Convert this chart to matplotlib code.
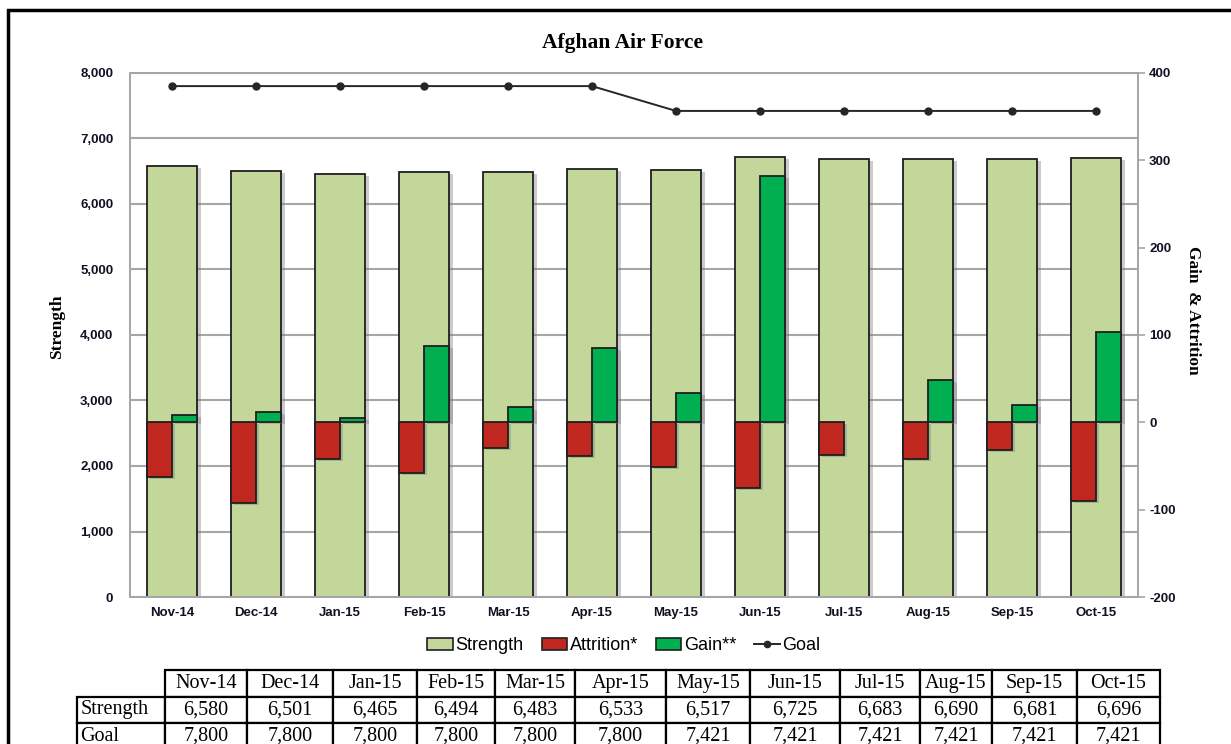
import numpy as np
import matplotlib
matplotlib.use('Agg')
import matplotlib.pyplot as plt
import matplotlib.patheffects as pe
from matplotlib.patches import Rectangle, Patch
from matplotlib.lines import Line2D
from matplotlib.table import Table
from matplotlib.ticker import FuncFormatter

plt.rcParams['axes.unicode_minus'] = False

# chart data
months = ['Nov-14', 'Dec-14', 'Jan-15', 'Feb-15', 'Mar-15', 'Apr-15',
          'May-15', 'Jun-15', 'Jul-15', 'Aug-15', 'Sep-15', 'Oct-15']
strength = [6580, 6501, 6465, 6494, 6483, 6533, 6517, 6725, 6683, 6690, 6681, 6696]
goal = [7800, 7800, 7800, 7800, 7800, 7800, 7421, 7421, 7421, 7421, 7421, 7421]
attrition = [-63, -92, -42, -58, -29, -38, -51, -75, -37, -42, -32, -90]
gain = [8, 12, 5, 87, 17, 85, 34, 282, 0, 48, 20, 104]

# table column widths in pixels (label column first)
col_px = [88, 82, 86, 84, 78, 80, 91, 84, 90, 80, 72, 85, 83]

W, H = 1231, 744
fig = plt.figure(figsize=(W / 100, H / 100), dpi=100)

tick_font = ['Liberation Sans Narrow', 'Liberation Sans', 'DejaVu Sans']
serif = ['Liberation Serif', 'DejaVu Serif']

c_strength = '#C4D79B'
c_attr = '#C0281F'
c_gain = '#00B050'
edge = '#1f1f1f'
grid_c = '#A6A6A6'

ax = fig.add_axes([130 / W, 1 - 597 / H, 1008 / W, 524 / H])
ax2 = ax.twinx()

x = np.arange(len(months))
shadow = [pe.SimplePatchShadow(offset=(2.5, -1.5), shadow_rgbFace='#7f7f7f', alpha=0.4), pe.Normal()]

bars = ax.bar(x, strength, width=0.6, color=c_strength, edgecolor=edge, linewidth=1.3, zorder=2)
for b in bars:
    b.set_path_effects(shadow)
ax.plot(x, goal, color='#262626', lw=1.4, marker='o', ms=5, zorder=5)

attr_bars = ax2.bar(x - 0.15, attrition, width=0.3, color=c_attr, edgecolor=edge, linewidth=1.3)
gain_lw = [0 if g == 0 else 1.3 for g in gain]
gain_bars = ax2.bar(x + 0.15, gain, width=0.3, color=c_gain, edgecolor=edge, linewidth=gain_lw)
for b in list(attr_bars) + list(gain_bars):
    b.set_path_effects(shadow)

ax.set_xlim(-0.5, len(months) - 0.5)
ax.set_ylim(0, 8000)
ax.set_yticks(range(0, 8001, 1000))
ax.yaxis.set_major_formatter(FuncFormatter(lambda v, p: f'{v:,.0f}'))
ax.yaxis.grid(True, color=grid_c, lw=1.5)
ax.set_axisbelow(True)
ax.set_xticks(x)
ax.set_xticklabels(months)
ax.tick_params(axis='y', length=0, pad=12)
ax.tick_params(axis='x', length=0, pad=7)

ax2.set_ylim(-200, 400)
ax2.set_yticks(range(-200, 401, 100))
ax2.tick_params(axis='y', length=5, width=1.2, color=grid_c, pad=3)

for a in (ax, ax2):
    for s in a.spines.values():
        s.set_color(grid_c)
        s.set_linewidth(1.3)
    for lab in a.get_xticklabels() + a.get_yticklabels():
        lab.set_fontfamily(tick_font)
        lab.set_fontweight('bold')
        lab.set_fontsize(9.5)
        lab.set_color('#111122')

fig.text(622 / W, 1 - 43 / H, 'Afghan Air Force', ha='center', va='center',
         fontfamily=serif, fontweight='bold', fontsize=15.5)
fig.text(57 / W, 1 - 327 / H, 'Strength', ha='center', va='center', rotation=90,
         fontfamily=serif, fontweight='bold', fontsize=12.5)
fig.text(1193 / W, 1 - 310 / H, 'Gain  & Attrition', ha='center', va='center', rotation=270,
         fontfamily=serif, fontweight='bold', fontsize=12.5)

handles = [Patch(facecolor=c_strength, edgecolor=edge, lw=1.2),
           Patch(facecolor=c_attr, edgecolor=edge, lw=1.2),
           Patch(facecolor=c_gain, edgecolor=edge, lw=1.2),
           Line2D([], [], color='#262626', lw=1.4, marker='o', ms=4.5)]
fig.legend(handles, ['Strength', 'Attrition*', 'Gain**', 'Goal'], loc='center',
           bbox_to_anchor=(624 / W, 1 - 646 / H), ncol=4, frameon=False,
           prop={'family': ['Liberation Sans', 'DejaVu Sans'], 'size': 13},
           handlelength=1.4, handleheight=0.6, handletextpad=0.15, columnspacing=1.0)

# data table under the chart
row_h = 26.5
tab_ax = fig.add_axes([77 / W, 1 - (670 + 3 * row_h) / H, sum(col_px) / W, 3 * row_h / H])
tab_ax.axis('off')
table = Table(tab_ax, bbox=[0, 0, 1, 1])
total = sum(col_px)
rows = [[''] + months,
        ['Strength'] + [f'{v:,}' for v in strength],
        ['Goal'] + [f'{v:,}' for v in goal]]
for r, row in enumerate(rows):
    for c, txt in enumerate(row):
        cell = table.add_cell(r, c, width=col_px[c] / total, height=1 / 3, text=txt,
                              loc='left' if c == 0 else 'center', facecolor='white',
                              edgecolor='black')
        cell.set_linewidth(1.6)
        cell.get_text().set_fontfamily(serif)
        cell.get_text().set_fontsize(14.5)
        if c == 0:
            cell.PAD = 0.04
        if r == 0 and c == 0:
            cell.visible_edges = ''
table.auto_set_font_size(False)
tab_ax.add_table(table)

# outer frame (cut off at the right and bottom edges)
fig.add_artist(Rectangle((8 / W, -0.1), 1.2, 1 - 10 / H + 0.1, transform=fig.transFigure,
                         fill=False, lw=2.5, edgecolor='black'))

fig.savefig('out.png', dpi=100)
